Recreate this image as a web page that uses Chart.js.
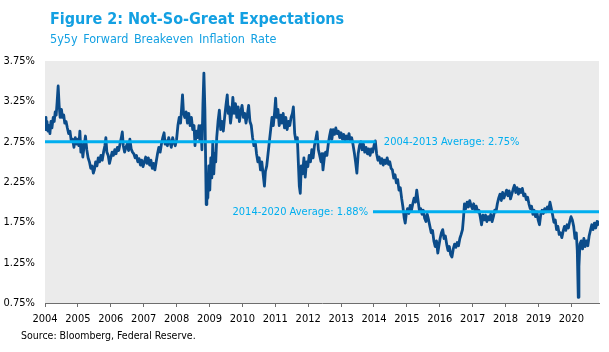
<!DOCTYPE html>
<html>
<head>
<meta charset="utf-8">
<script src="https://cdn.jsdelivr.net/npm/chart.js@4.4.1/dist/chart.umd.min.js"></script>
<style>
  html, body { margin: 0; padding: 0; background: #ffffff; }
  #wrap { position: relative; width: 609px; height: 352px; overflow: hidden; }
  #c { position: absolute; left: 0; top: 0; }
  .t { position: absolute; white-space: pre; font-family: "DejaVu Sans Condensed", "DejaVu Sans", sans-serif; }
  #title { left: 50px; top: 9px; font-size: 16px; font-weight: bold; color: #13A0E2; }
  #subtitle { left: 50px; top: 31px; font-size: 12.5px; color: #13A0E2; word-spacing: 2px; }
  #source { left: 21px; top: 329px; font-size: 10.5px; color: #000000; }
</style>
</head>
<body>
<div id="wrap">
  <canvas id="c" width="609" height="352"></canvas>
  <div class="t" id="title">Figure 2: Not-So-Great Expectations</div>
  <div class="t" id="subtitle">5y5y Forward Breakeven Inflation Rate</div>
  <div class="t" id="source">Source: Bloomberg, Federal Reserve.</div>
</div>
<script>
// ---- data (decimal year, percent) ----
const dates = [
2004.00,2004.03,2004.06,2004.09,2004.12,2004.15,2004.18,2004.21,2004.25,2004.28,2004.31,2004.34,2004.37,2004.40,2004.43,2004.46,2004.50,2004.53,2004.57,2004.60,2004.64,2004.68,2004.72,2004.76,2004.80,2004.84,2004.88,2004.92,2004.96,
2005.00,2005.03,2005.06,2005.09,2005.12,2005.15,2005.19,2005.23,2005.27,2005.31,2005.35,2005.39,2005.43,2005.47,2005.50,2005.54,2005.58,2005.62,2005.66,2005.70,2005.74,2005.78,2005.82,2005.85,2005.88,2005.92,2005.96,
2006.00,2006.04,2006.08,2006.12,2006.16,2006.20,2006.24,2006.28,2006.32,2006.35,2006.38,2006.42,2006.46,2006.50,2006.54,2006.58,2006.62,2006.66,2006.70,2006.74,2006.78,2006.82,2006.86,2006.90,2006.94,2006.98,
2007.02,2007.06,2007.10,2007.14,2007.18,2007.22,2007.26,2007.30,2007.34,2007.38,2007.42,2007.46,2007.50,2007.54,2007.58,2007.62,2007.65,2007.68,2007.72,2007.76,2007.80,2007.84,2007.88,2007.92,2007.96,
2008.00,2008.04,2008.08,2008.12,2008.15,2008.18,2008.21,2008.25,2008.29,2008.33,2008.37,2008.41,2008.45,2008.49,2008.53,2008.56,2008.60,2008.64,2008.68,2008.71,2008.74,2008.77,2008.80,2008.83,2008.86,2008.88,2008.90,2008.92,2008.95,2008.98,
2009.01,2009.04,2009.07,2009.10,2009.13,2009.16,2009.19,2009.22,2009.26,2009.30,2009.34,2009.38,2009.42,2009.46,2009.50,2009.54,2009.57,2009.60,2009.64,2009.68,2009.71,2009.75,2009.79,2009.83,2009.87,2009.91,2009.95,2009.99,
2010.03,2010.07,2010.11,2010.15,2010.19,2010.23,2010.27,2010.31,2010.35,2010.39,2010.43,2010.47,2010.51,2010.55,2010.59,2010.63,2010.67,2010.70,2010.74,2010.78,2010.82,2010.86,2010.90,2010.94,2010.98,
2011.01,2011.04,2011.08,2011.12,2011.16,2011.20,2011.24,2011.28,2011.32,2011.36,2011.40,2011.44,2011.48,2011.52,2011.55,2011.59,2011.63,2011.67,2011.70,2011.73,2011.76,2011.79,2011.83,2011.87,2011.91,2011.95,2011.99,
2012.03,2012.07,2012.11,2012.15,2012.19,2012.23,2012.27,2012.31,2012.35,2012.39,2012.42,2012.45,2012.49,2012.53,2012.57,2012.61,2012.65,2012.69,2012.72,2012.76,2012.80,2012.84,2012.88,2012.92,2012.96,
2013.00,2013.04,2013.08,2013.12,2013.16,2013.20,2013.24,2013.28,2013.32,2013.36,2013.40,2013.44,2013.48,2013.52,2013.56,2013.60,2013.64,2013.68,2013.72,2013.76,2013.80,2013.84,2013.88,2013.92,2013.96,
2014.00,2014.04,2014.08,2014.12,2014.16,2014.20,2014.24,2014.28,2014.32,2014.36,2014.40,2014.44,2014.48,2014.52,2014.56,2014.60,2014.64,2014.68,2014.72,2014.76,2014.80,2014.84,2014.88,2014.92,2014.95,2014.98,
2015.02,2015.06,2015.10,2015.14,2015.18,2015.22,2015.26,2015.30,2015.34,2015.38,2015.42,2015.46,2015.50,2015.54,2015.58,2015.62,2015.66,2015.70,2015.74,2015.78,2015.82,2015.86,2015.90,2015.94,2015.97,
2016.01,2016.05,2016.09,2016.13,2016.17,2016.21,2016.25,2016.29,2016.33,2016.37,2016.41,2016.45,2016.49,2016.53,2016.57,2016.61,2016.65,2016.69,2016.72,2016.75,2016.79,2016.83,2016.87,2016.91,2016.95,2016.99,
2017.03,2017.07,2017.11,2017.15,2017.19,2017.23,2017.27,2017.31,2017.35,2017.39,2017.43,2017.47,2017.51,2017.55,2017.59,2017.63,2017.67,2017.71,2017.75,2017.79,2017.83,2017.87,2017.91,2017.95,2017.99,
2018.03,2018.07,2018.11,2018.15,2018.19,2018.23,2018.27,2018.31,2018.35,2018.39,2018.43,2018.47,2018.51,2018.55,2018.59,2018.63,2018.67,2018.71,2018.75,2018.79,2018.83,2018.87,2018.91,2018.95,2018.99,
2019.03,2019.07,2019.11,2019.15,2019.19,2019.23,2019.27,2019.31,2019.35,2019.39,2019.43,2019.47,2019.51,2019.55,2019.59,2019.63,2019.67,2019.71,2019.75,2019.79,2019.83,2019.87,2019.91,2019.95,2019.99,
2020.03,2020.07,2020.11,2020.15,2020.18,2020.21,2020.23,2020.26,2020.30,2020.34,2020.38,2020.42,2020.46,2020.50,2020.54,2020.58,2020.62,2020.66,2020.70,2020.74,2020.78,2020.80
];
const rates = [
3.05,2.90,3.00,2.88,2.95,2.85,3.00,2.92,3.05,3.00,3.12,3.08,3.25,3.44,3.20,3.05,3.15,3.05,3.08,2.98,3.00,2.92,2.85,2.88,2.75,2.78,2.68,2.80,2.72,
2.78,2.70,2.88,2.62,2.72,2.56,2.70,2.82,2.65,2.55,2.50,2.42,2.45,2.36,2.40,2.50,2.45,2.55,2.50,2.58,2.52,2.62,2.70,2.80,2.62,2.58,2.48,
2.55,2.62,2.58,2.65,2.60,2.68,2.64,2.72,2.80,2.87,2.70,2.62,2.68,2.72,2.64,2.78,2.66,2.62,2.60,2.55,2.58,2.50,2.54,2.46,2.52,2.44,
2.50,2.56,2.48,2.55,2.46,2.52,2.42,2.48,2.40,2.50,2.60,2.68,2.62,2.72,2.80,2.86,2.72,2.76,2.70,2.80,2.74,2.68,2.80,2.74,2.70,
2.78,2.95,3.05,2.98,3.15,3.33,3.10,3.05,3.12,2.98,3.10,2.95,3.05,2.90,2.95,2.70,2.88,2.80,2.95,2.75,2.95,2.65,3.20,3.60,3.15,2.60,1.97,2.30,2.05,2.45,
2.15,2.55,2.30,2.75,2.35,2.60,2.50,2.80,3.00,3.14,2.90,3.00,2.88,3.05,3.20,3.33,3.10,3.18,2.98,3.12,3.30,3.10,3.22,3.05,3.18,3.00,3.12,3.20,
3.05,3.10,2.98,3.08,3.20,3.00,2.95,2.80,2.70,2.75,2.60,2.50,2.55,2.40,2.50,2.35,2.20,2.38,2.45,2.60,2.75,2.90,3.05,2.95,3.12,
3.29,3.05,3.15,2.95,3.08,2.98,3.10,2.92,3.05,2.90,3.00,2.95,3.05,3.10,3.18,2.85,2.75,2.80,2.50,2.20,2.11,2.45,2.35,2.55,2.31,2.50,2.44,
2.58,2.50,2.65,2.55,2.70,2.78,2.87,2.65,2.58,2.50,2.60,2.40,2.55,2.62,2.58,2.72,2.82,2.90,2.78,2.90,2.84,2.92,2.85,2.88,2.80,
2.86,2.78,2.84,2.76,2.82,2.78,2.85,2.75,2.80,2.72,2.62,2.50,2.36,2.60,2.70,2.75,2.65,2.72,2.62,2.68,2.60,2.66,2.58,2.66,2.62,
2.70,2.76,2.60,2.52,2.56,2.48,2.54,2.46,2.52,2.48,2.55,2.47,2.50,2.42,2.40,2.30,2.34,2.24,2.28,2.15,2.18,2.05,1.94,1.80,1.74,1.85,
1.92,1.86,1.96,1.90,1.98,2.05,2.00,2.15,2.02,1.90,1.92,1.85,1.90,1.80,1.76,1.85,1.78,1.70,1.62,1.65,1.52,1.45,1.52,1.37,1.45,
1.55,1.62,1.66,1.55,1.58,1.48,1.40,1.45,1.35,1.32,1.42,1.48,1.44,1.50,1.46,1.55,1.60,1.66,1.80,1.98,1.92,2.00,1.94,2.02,1.96,1.92,
1.98,1.90,1.95,1.88,1.90,1.82,1.72,1.84,1.78,1.84,1.76,1.82,1.78,1.85,1.76,1.82,1.90,1.88,1.98,2.05,2.10,2.02,2.12,2.05,2.10,
2.15,2.08,2.14,2.04,2.10,2.16,2.21,2.12,2.18,2.10,2.16,2.12,2.17,2.08,2.10,2.03,2.06,1.98,1.92,1.95,1.85,1.90,1.82,1.88,1.78,
1.72,1.85,1.90,1.86,1.92,1.88,1.94,1.90,2.00,1.92,1.84,1.75,1.78,1.66,1.70,1.60,1.62,1.56,1.64,1.70,1.65,1.72,1.68,1.76,1.82,
1.78,1.70,1.55,1.62,1.40,0.82,1.20,1.48,1.52,1.42,1.55,1.45,1.52,1.46,1.58,1.65,1.72,1.66,1.74,1.68,1.76,1.72
];

const avgLabels = ['2004-2013 Average: 2.75%', '2014-2020 Average: 1.88%'];
const avgValues = [2.75, 1.88];
const avgStart  = [2004, 2013.97];
const avgEnd    = [2014.05, 2020.84];

const yTicks = [0.75, 1.25, 1.75, 2.25, 2.75, 3.25, 3.75];
const xTicks = [2004,2005,2006,2007,2008,2009,2010,2011,2012,2013,2014,2015,2016,2017,2018,2019,2020];

const FONT = '"DejaVu Sans Condensed", "DejaVu Sans", sans-serif';
const LIGHT = '#00AEEF';
const DARK = '#0B4C8A';

const bgPlugin = {
  id: 'bg',
  beforeDraw(chart) {
    const a = chart.chartArea, ctx = chart.ctx;
    ctx.save();
    ctx.fillStyle = '#EBEBEB';
    ctx.fillRect(a.left, a.top, a.right - a.left, a.bottom - a.top);
    ctx.restore();
  }
};

const labelPlugin = {
  id: 'avgLabels',
  afterDatasetsDraw(chart, args, opts) {
    const ctx = chart.ctx, xs = chart.scales.x, ys = chart.scales.y;
    ctx.save();
    ctx.font = '11px ' + FONT;
    ctx.fillStyle = LIGHT;
    ctx.textBaseline = 'middle';
    opts.items.forEach((it, i) => {
      ctx.textAlign = it.align;
      ctx.fillText(avgLabels[i], xs.getPixelForValue(it.x), ys.getPixelForValue(avgValues[i]) + it.dy);
    });
    ctx.restore();
  }
};

const avgSets = avgValues.map((v, i) => ({
  data: [{x: avgStart[i], y: v}, {x: avgEnd[i], y: v}],
  borderColor: LIGHT, borderWidth: 3, pointRadius: 0, fill: false, order: 0
}));

new Chart(document.getElementById('c'), {
  type: 'line',
  data: {
    datasets: [
      ...avgSets,
      {
        data: dates.map((d, i) => ({x: d, y: rates[i]})),
        borderColor: DARK, borderWidth: 2.8, pointRadius: 0, tension: 0, fill: false, order: 1,
        borderJoinStyle: 'round'
      }
    ]
  },
  options: {
    responsive: false,
    animation: false,
    devicePixelRatio: 1,
    layout: { padding: { top: 61, right: 10, left: 0, bottom: 0 } },
    plugins: {
      legend: { display: false },
      tooltip: { enabled: false },
      avgLabels: { items: [ {x: 2014.3, align: 'left', dy: 0}, {x: 2013.82, align: 'right', dy: 0} ] }
    },
    scales: {
      x: {
        type: 'linear', min: 2004, max: 2020.84,
        afterBuildTicks: s => { s.ticks = xTicks.map(v => ({value: v})); },
        afterFit: s => { s.height = 49; },
        border: { display: true, color: '#6E6E6E', width: 1 },
        grid: { display: true, drawOnChartArea: false, drawTicks: true, tickLength: 4, color: '#6E6E6E' },
        ticks: { autoSkip: false, maxRotation: 0, padding: 6, color: '#000000', font: { family: FONT, size: 11 }, callback: v => String(v) }
      },
      y: {
        type: 'linear', min: 0.75, max: 3.75,
        afterBuildTicks: s => { s.ticks = yTicks.map(v => ({value: v})); },
        afterFit: s => { s.width = 45; },
        border: { display: false },
        grid: { display: false, drawTicks: false },
        ticks: { padding: 10, color: '#000000', font: { family: FONT, size: 11 }, callback: v => v.toFixed(2) + '%' }
      }
    }
  },
  plugins: [bgPlugin, labelPlugin]
});
</script>
</body>
</html>
